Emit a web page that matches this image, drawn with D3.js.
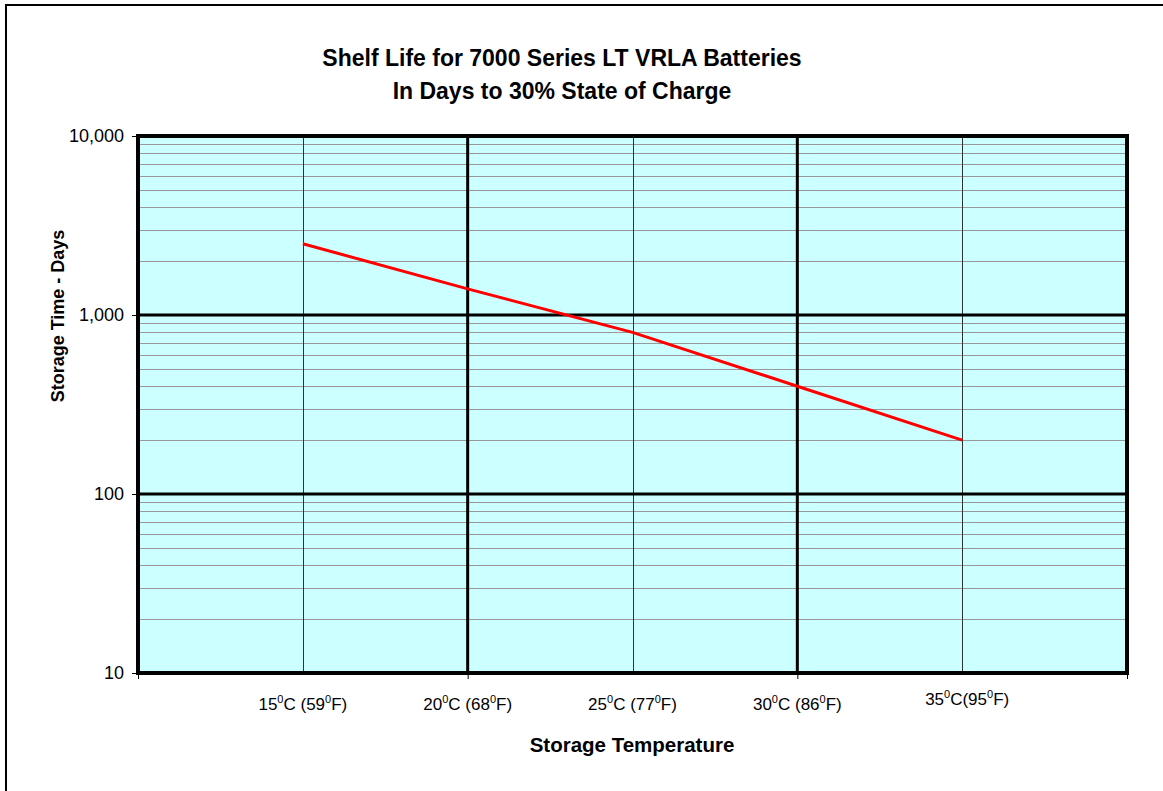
<!DOCTYPE html>
<html>
<head>
<meta charset="utf-8">
<script src="https://cdn.jsdelivr.net/npm/d3@7"></script>
<style>
  body { margin: 0; background: #fff; }
  text { font-family: "Liberation Sans", Arial, sans-serif; }
</style>
</head>
<body>
<div id="chart"></div>
<script>
// data
var temps = [15, 20, 25, 30, 35];
var days = [2500, 1400, 800, 400, 200];
var tempLabels = ["15^0C (59^0F)", "20^0C (68^0F)", "25^0C (77^0F)", "30^0C (86^0F)", "35^0C(95^0F)"];
var yTicks = [10, 100, 1000, 10000];
var xMajor = [20, 30];
var xMinor = [15, 25, 35];

var width = 1163, height = 791;
var plot = {left: 138, right: 1127, top: 136, bottom: 673};

var svg = d3.select("#chart")
    .append("svg")
    .attr("width", width)
    .attr("height", height);

// outer frame
svg.append("rect")
    .attr("x", 6).attr("y", 5)
    .attr("width", 2000).attr("height", 2000)
    .attr("fill", "none")
    .attr("stroke", "#000")
    .attr("stroke-width", 2);

var x = d3.scaleLinear().domain([10, 40]).range([plot.left, plot.right]);
var y = d3.scaleLog().domain([10, 10000]).range([plot.bottom, plot.top]);

svg.append("rect")
    .attr("x", plot.left).attr("y", plot.top)
    .attr("width", plot.right - plot.left).attr("height", plot.bottom - plot.top)
    .attr("fill", "#ccffff");

// minor horizontal grid
var minorY = [];
[10, 100, 1000].forEach(function(d) {
    for (var m = 2; m <= 9; m++) minorY.push(d * m);
});
svg.selectAll(".minor-y")
    .data(minorY)
    .enter().append("line")
    .attr("x1", plot.left).attr("x2", plot.right)
    .attr("y1", function(d) { return Math.round(y(d)) + 0.5; })
    .attr("y2", function(d) { return Math.round(y(d)) + 0.5; })
    .attr("stroke", "#999")
    .attr("stroke-width", 1);

// thin vertical grid
svg.selectAll(".minor-x")
    .data(xMinor)
    .enter().append("line")
    .attr("x1", function(d) { return Math.round(x(d)) + 0.5; })
    .attr("x2", function(d) { return Math.round(x(d)) + 0.5; })
    .attr("y1", plot.top).attr("y2", plot.bottom)
    .attr("stroke", "#333")
    .attr("stroke-width", 1);

// major grid
svg.selectAll(".major-y")
    .data([100, 1000])
    .enter().append("line")
    .attr("x1", plot.left).attr("x2", plot.right)
    .attr("y1", function(d) { return y(d); })
    .attr("y2", function(d) { return y(d); })
    .attr("stroke", "#000")
    .attr("stroke-width", 3);

svg.selectAll(".major-x")
    .data(xMajor)
    .enter().append("line")
    .attr("x1", function(d) { return x(d); })
    .attr("x2", function(d) { return x(d); })
    .attr("y1", plot.top).attr("y2", plot.bottom)
    .attr("stroke", "#000")
    .attr("stroke-width", 3);

// axes
var yAxis = d3.axisLeft(y)
    .tickValues(yTicks)
    .tickFormat(d3.format(","))
    .tickSize(6)
    .tickPadding(8);

svg.append("g")
    .attr("transform", "translate(" + plot.left + ",0)")
    .call(yAxis)
    .call(function(g) { g.select(".domain").remove(); })
    .call(function(g) {
        g.selectAll("line").attr("stroke", "#000").attr("stroke-width", 1);
        g.selectAll("text")
            .attr("font-size", 18)
            .attr("fill", "#000")
            .attr("font-family", "Liberation Sans, Arial, sans-serif");
    });

var xAxis = d3.axisBottom(x)
    .tickValues([10, 20, 30, 40])
    .tickFormat("")
    .tickSize(6);

svg.append("g")
    .attr("transform", "translate(0," + plot.bottom + ")")
    .call(xAxis)
    .call(function(g) { g.select(".domain").remove(); })
    .call(function(g) { g.selectAll("line").attr("stroke", "#000").attr("stroke-width", 1); });

// plot border
svg.append("rect")
    .attr("x", plot.left).attr("y", plot.top)
    .attr("width", plot.right - plot.left).attr("height", plot.bottom - plot.top)
    .attr("fill", "none")
    .attr("stroke", "#000")
    .attr("stroke-width", 4);

// series
var line = d3.line()
    .x(function(d, i) { return x(temps[i]); })
    .y(function(d) { return y(d); });

svg.append("path")
    .datum(days)
    .attr("d", line)
    .attr("fill", "none")
    .attr("stroke", "#ff0000")
    .attr("stroke-width", 3);

// x tick labels with superscript zero
var labels = svg.selectAll(".xlabel")
    .data(tempLabels)
    .enter().append("text")
    .attr("class", "xlabel")
    .attr("x", function(d, i) { return x(temps[i]) + (i == 4 ? 5 : 0); })
    .attr("y", function(d, i) { return i == 4 ? 705 : 710; })
    .attr("text-anchor", "middle")
    .attr("font-size", 17)
    .attr("fill", "#000");

labels.each(function(d) {
    var t = d3.select(this);
    var parts = d.split("^0");
    parts.forEach(function(p, j) {
        if (j > 0) {
            t.append("tspan").attr("font-size", 11).attr("dy", -7).text("0");
            t.append("tspan").attr("dy", 7).text(p);
        } else {
            t.append("tspan").text(p);
        }
    });
});

// titles
svg.append("text")
    .attr("x", 562).attr("y", 66)
    .attr("text-anchor", "middle")
    .attr("font-size", 23)
    .attr("font-weight", "bold")
    .text("Shelf Life for 7000 Series LT VRLA Batteries");

svg.append("text")
    .attr("x", 562).attr("y", 99)
    .attr("text-anchor", "middle")
    .attr("font-size", 23)
    .attr("font-weight", "bold")
    .text("In Days to 30% State of Charge");

svg.append("text")
    .attr("x", 632).attr("y", 752)
    .attr("text-anchor", "middle")
    .attr("font-size", 20.5)
    .attr("font-weight", "bold")
    .text("Storage Temperature");

svg.append("text")
    .attr("transform", "translate(64,316) rotate(-90)")
    .attr("text-anchor", "middle")
    .attr("font-size", 18)
    .attr("font-weight", "bold")
    .text("Storage Time - Days");
</script>
</body>
</html>
